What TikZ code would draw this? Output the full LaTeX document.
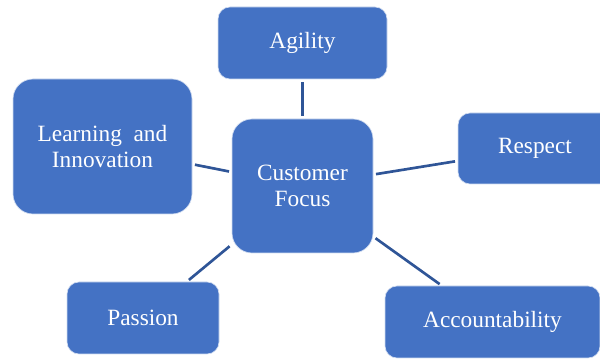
\documentclass[tikz,border=0pt]{standalone}
\usepackage{fontspec}
\setmainfont{Liberation Serif}
\definecolor{boxblue}{HTML}{4472C4}
\definecolor{linkblue}{HTML}{2F5597}

\begin{document}
\begin{tikzpicture}[x=0.75pt,y=-0.75pt,
  value/.style={draw=white!75!boxblue,line width=0.5pt,fill=boxblue,text=white,
    align=center,inner sep=0pt,font=\fontsize{17.5}{19.5}\selectfont},
  link/.style={linkblue,line width=2pt,shorten <=2pt,shorten >=2pt}]
\useasboundingbox (0,0) rectangle (600,359);
\clip (0,0) rectangle (600,359);

\node[value,rounded corners=15pt,minimum width=105.75pt,minimum height=100.5pt] (focus) at (302.5,186) {Customer\\Focus};

\node[value,rounded corners=9pt,minimum width=126.75pt,minimum height=54pt]   (agility)  at (302.5,43)  {Agility};
\node[value,rounded corners=15pt,minimum width=134.25pt,minimum height=101.25pt] (learning) at (102.5,146.5) {Learning\enspace and\\Innovation};
\node[value,rounded corners=9pt,minimum width=115.5pt,minimum height=53.25pt]  (respect)  at (535,148.5) {Respect};
\node[value,rounded corners=9pt,minimum width=114pt,minimum height=54pt]      (passion)  at (143,318)   {Passion};
\node[value,rounded corners=9pt,minimum width=161.25pt,minimum height=54pt]   (account)  at (492.5,322) {Accountability};

\draw[link] (focus) -- (agility);
\draw[link] (focus) -- (learning);
\draw[link] (focus) -- (respect);
\draw[link] (focus) -- (passion);
\draw[link] (focus) -- (account);

\end{tikzpicture}
\end{document}
